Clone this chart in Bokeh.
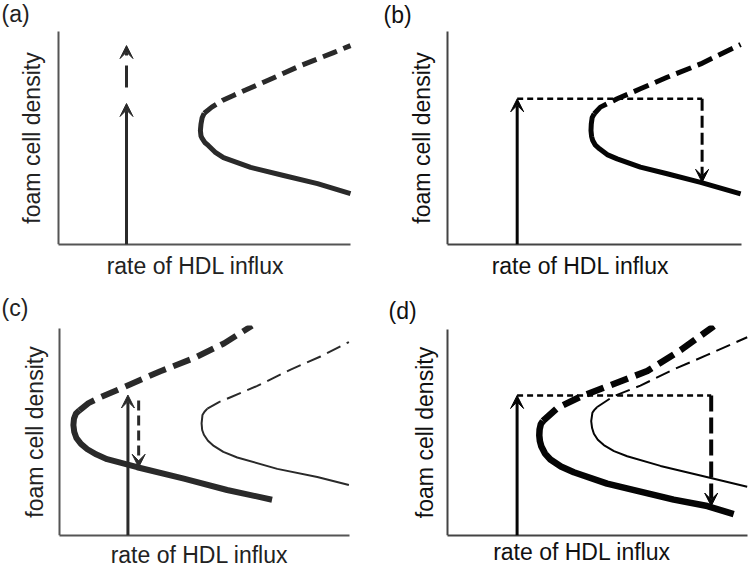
from bokeh.plotting import figure
from bokeh.models import Range1d, FixedTicker, Arrow, VeeHead, Title
from bokeh.layouts import column, row
from bokeh.embed import file_html
from bokeh.resources import INLINE

FONT = "Liberation Sans"
X_LABEL = "rate of HDL influx"
Y_LABEL = "foam cell density"
PANEL_LABELS = ["(a)", "(b)", "(c)", "(d)"]

# ---- data (axis box = 0..100 in both directions) ----
# panel (a)
A_UP_X = [49.9, 52.5, 56.1, 59.9, 71.6, 82.9, 94.2, 100.0]
A_UP_Y = [61.6, 64.5, 67.6, 70.0, 77.0, 84.0, 90.1, 93.4]
A_LO_X = [49.9, 49.2, 48.8, 48.6, 48.8, 49.2, 50.1, 51.3, 53.6, 56.5, 65.8, 77.1, 88.7, 100.0]
A_LO_Y = [61.6, 59.5, 56.5, 53.5, 51.0, 49.8, 47.9, 46.5, 43.4, 40.8, 36.2, 32.4, 28.6, 23.9]
A_ARROW_X = [23.3, 23.3]
A_ARROW_Y0 = [0.0, 73.7]
A_ARROW_Y1 = [66.2, 93.4]

# panel (b)
B_UP_X = [49.9, 52.0, 57.7, 65.6, 74.7, 86.1, 99.7]
B_UP_Y = [61.4, 64.5, 68.4, 73.1, 78.5, 84.8, 93.9]
B_LO_X = [49.9, 49.2, 48.9, 48.8, 49.0, 49.4, 50.3, 51.7, 54.3, 57.7, 65.6, 74.7, 86.1, 99.7]
B_LO_Y = [61.4, 59.6, 56.5, 53.5, 50.8, 48.8, 46.6, 44.9, 42.2, 40.2, 36.3, 33.2, 29.2, 23.8]
B_JUMP_X = [23.7, 86.6]
B_JUMP_Y = [68.4, 29.2]

# panel (c)
C1_UP_X = [6.9, 10.0, 14.1, 24.5, 34.8, 46.3, 56.7, 66.4]
C1_UP_Y = [60.5, 64.0, 66.8, 73.1, 79.4, 85.7, 92.8, 101.4]
C1_LO_X = [6.9, 5.7, 5.0, 4.8, 5.1, 5.8, 7.4, 9.6, 12.8, 16.4, 26.8, 42.9, 57.8, 73.3]
C1_LO_Y = [60.5, 59.0, 56.5, 53.4, 50.0, 47.2, 44.3, 41.7, 39.1, 36.9, 33.0, 27.5, 22.0, 17.3]
C2_UP_X = [51.0, 55.0, 59.0, 68.2, 79.7, 90.0, 99.8]
C2_UP_Y = [61.3, 64.5, 66.8, 72.3, 80.2, 86.5, 93.5]
C2_LO_X = [51.0, 50.0, 49.3, 49.0, 49.2, 49.8, 51.2, 53.2, 56.5, 61.3, 75.1, 88.9, 99.8]
C2_LO_Y = [61.3, 59.8, 58.2, 54.2, 51.0, 48.7, 45.8, 43.3, 40.4, 37.7, 32.2, 28.3, 24.4]
C_UP_ARROW = [23.6, 0.0, 67.9]
C_DOWN_ARROW = [27.3, 65.2, 33.0]

# panel (d)
D1_UP_X = [31.8, 36.6, 44.3, 55.4, 66.6, 77.7, 88.8]
D1_UP_Y = [55.6, 61.9, 67.4, 73.6, 79.9, 90.0, 101.7]
D1_LO_X = [31.8, 31.1, 30.7, 30.6, 30.8, 31.3, 32.5, 34.3, 37.8, 42.1, 53.2, 64.3, 75.4, 86.6, 95.4]
D1_LO_Y = [55.6, 54.0, 51.5, 48.6, 45.8, 43.2, 39.8, 36.9, 33.5, 30.7, 25.2, 21.3, 17.4, 14.3, 10.4]
D2_UP_X = [49.9, 55.4, 64.3, 75.4, 86.6, 99.9]
D2_UP_Y = [62.4, 67.7, 72.8, 80.7, 87.7, 96.3]
D2_LO_X = [49.9, 48.9, 48.3, 47.9, 48.2, 48.8, 50.1, 52.1, 55.5, 59.9, 71.0, 84.3, 99.9]
D2_LO_Y = [62.4, 60.9, 59.6, 55.6, 52.2, 49.4, 46.5, 43.9, 41.0, 38.5, 33.8, 29.1, 23.7]
D_JUMP_X = [23.2, 87.9]
D_JUMP_Y = [68.0, 14.3]


def make_panel(width, height, borders, x_span, y_end, xs_off, ys_off, axis_color, text_color,
               label, label_offset, label_standoff):
    l, t, r, b = borders
    p = figure(width=width, height=height, x_range=Range1d(*x_span), y_range=Range1d(0, y_end),
               output_backend="svg", toolbar_location=None,
               min_border_left=l, min_border_top=t, min_border_right=r, min_border_bottom=b,
               x_axis_label=X_LABEL, y_axis_label=Y_LABEL)
    p.outline_line_color = None
    p.grid.visible = False
    p.background_fill_color = "white"
    p.border_fill_color = "white"
    for ax, so in ((p.xaxis[0], xs_off), (p.yaxis[0], ys_off)):
        ax.ticker = FixedTicker(ticks=[])
        ax.major_tick_line_color = None
        ax.minor_tick_line_color = None
        ax.major_tick_out = 0
        ax.minor_tick_out = 0
        ax.major_label_text_font_size = "0px"
        ax.axis_line_width = 2
        ax.axis_line_color = axis_color
        ax.axis_label_text_font = FONT
        ax.axis_label_text_font_size = "23px"
        ax.axis_label_text_font_style = "normal"
        ax.axis_label_text_color = text_color
        ax.axis_label_standoff = so
    p.yaxis[0].bounds = (0, 100)
    p.yaxis[0].fixed_location = 0
    p.xaxis[0].bounds = (0, 100)
    p.add_layout(Title(text=label, align="left", offset=label_offset, standoff=label_standoff,
                       text_font=FONT, text_font_size="23px", text_font_style="normal",
                       text_color=text_color), "above")
    return p


def curve(p, xs, ys, w, color, dash="solid"):
    p.line(xs, ys, line_width=w, line_color=color, line_dash=dash,
           line_join="round", line_cap="butt")


def arrow(p, x0, y0, x1, y1, w, color, dash="solid", size=13):
    p.add_layout(Arrow(end=VeeHead(size=size, fill_color=color, line_color=color, line_width=1),
                       x_start=x0, y_start=y0, x_end=x1, y_end=y1,
                       line_width=w, line_color=color, line_dash=dash))


GREY = "#2a2a2a"
BLACK = "#050505"

# (a)
pa = make_panel(375, 285, (20, 21, 5, 41), (-13.0, 106.85), 104.7, 8, 14, "#555555", "#222222",
                PANEL_LABELS[0], -19, -10.7)
curve(pa, A_UP_X, A_UP_Y, 5, GREY, "15 7")
curve(pa, A_LO_X, A_LO_Y, 5, GREY)
arrow(pa, A_ARROW_X[0], A_ARROW_Y0[0], A_ARROW_X[0], A_ARROW_Y1[0], 3, GREY)
arrow(pa, A_ARROW_X[1], A_ARROW_Y0[1], A_ARROW_X[1], A_ARROW_Y1[1], 3, GREY, "22 10")

# (b)
pb = make_panel(375, 285, (35, 21, 0, 41), (-12.59, 103.06), 104.7, 8, 13, "#444444", "#111111",
                PANEL_LABELS[1], -27, -12.3)
curve(pb, B_UP_X, B_UP_Y, 5, BLACK, "16 7")
curve(pb, B_LO_X, B_LO_Y, 5, BLACK)
arrow(pb, B_JUMP_X[0], 0.0, B_JUMP_X[0], B_JUMP_Y[0], 3, BLACK)
pb.line(B_JUMP_X, [B_JUMP_Y[0], B_JUMP_Y[0]], line_width=2.5, line_color=BLACK, line_dash="6 4")
arrow(pb, B_JUMP_X[1], B_JUMP_Y[0], B_JUMP_X[1], B_JUMP_Y[1], 3, BLACK, "12 5")

# (c)
pc = make_panel(375, 285, (23, 40, 0, 30), (-12.41, 108.97), 101.5, 6, 12, "#555555", "#222222",
                PANEL_LABELS[2], -22, 10)
curve(pc, C1_UP_X, C1_UP_Y, 6, GREY, "18 8")
curve(pc, C1_LO_X, C1_LO_Y, 6, GREY)
curve(pc, C2_UP_X, C2_UP_Y, 2, GREY, "15 7")
curve(pc, C2_LO_X, C2_LO_Y, 2, GREY)
arrow(pc, C_UP_ARROW[0], C_UP_ARROW[1], C_UP_ARROW[0], C_UP_ARROW[2], 3, GREY)
arrow(pc, C_DOWN_ARROW[0], C_DOWN_ARROW[1], C_DOWN_ARROW[0], C_DOWN_ARROW[2], 3, GREY, "10 5")

# (d)
pd = make_panel(375, 285, (38, 38, 0, 30), (-11.33, 101.0), 102.0, 3, 10, "#444444", "#111111",
                PANEL_LABELS[3], -25, 3)
curve(pd, D1_UP_X, D1_UP_Y, 6.5, BLACK, "18 8")
curve(pd, D1_LO_X, D1_LO_Y, 6.5, BLACK)
curve(pd, D2_UP_X, D2_UP_Y, 2, BLACK, "15 7")
curve(pd, D2_LO_X, D2_LO_Y, 2, BLACK)
arrow(pd, D_JUMP_X[0], 0.0, D_JUMP_X[0], D_JUMP_Y[0], 3, BLACK)
pd.line(D_JUMP_X, [D_JUMP_Y[0], D_JUMP_Y[0]], line_width=2.5, line_color=BLACK, line_dash="6 4")
arrow(pd, D_JUMP_X[1], D_JUMP_Y[0], D_JUMP_X[1], D_JUMP_Y[1], 4, BLACK, "16 6")

layout = column(row(pa, pb), row(pc, pd))
open("out.html", "w").write(file_html(layout, INLINE))
